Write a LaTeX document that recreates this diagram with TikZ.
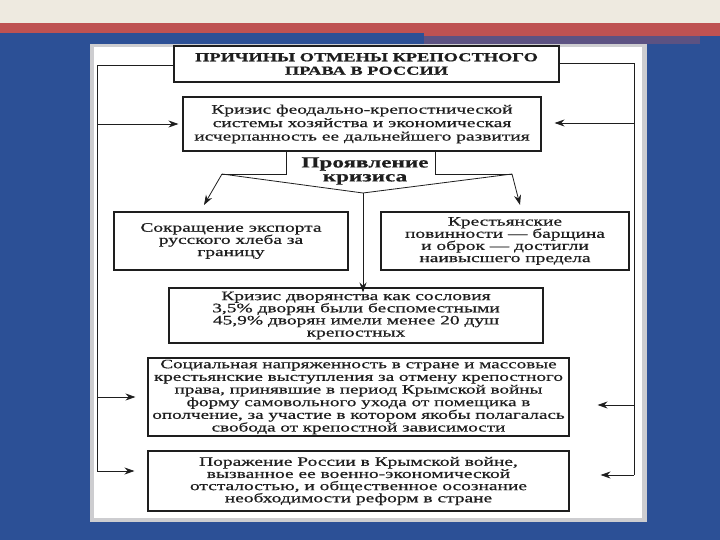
\documentclass[tikz,border=0pt]{standalone}
\usepackage{fontspec}
\setmainfont{Liberation Serif}
\newfontfamily\scan[FakeStretch=1.5,FakeBold=0.6]{Liberation Serif}
\usetikzlibrary{arrows.meta}
\definecolor{bgblue}{RGB}{44,80,150}
\definecolor{bgcream}{RGB}{238,234,224}
\definecolor{bgred}{RGB}{190,82,82}
\definecolor{bgpurple}{RGB}{92,82,130}
\definecolor{panelgray}{RGB}{205,205,208}
\definecolor{ink}{RGB}{30,30,30}
\tikzset{
  boxnode/.style={draw=ink, line width=1.1bp, inner sep=0pt, align=center, text=ink,
    font=\scan\fontsize{13}{12.2}\selectfont},
  conn/.style={draw=ink, line width=0.8bp},
  arr/.style={conn, -{Stealth[length=10bp,width=7bp]}},
}
\begin{document}
\begin{tikzpicture}[x=1bp,y=-1bp]
\useasboundingbox (0,0) rectangle (720,540);
% background
\fill[bgblue] (0,0) rectangle (720,540);
\fill[bgcream] (0,0) rectangle (720,23);
\fill[bgred] (0,23) rectangle (720,33);
\fill[bgred] (424,33) rectangle (720,36);
\fill[bgpurple] (424,36) rectangle (700,44);
% panel
\fill[panelgray] (90,44) rectangle (647,522);
\fill[white] (94,47) rectangle (642,518);

% boxes
\node[boxnode, minimum width=385bp, minimum height=36bp, font=\scan\bfseries\fontsize{12.3}{13.5}\selectfont]
  (title) at (366.5,64) {ПРИЧИНЫ ОТМЕНЫ КРЕПОСТНОГО\\ПРАВА В РОССИИ};
\node[boxnode, minimum width=358bp, minimum height=54bp, font=\scan\fontsize{13}{13.5}\selectfont] (b2) at (362,124)
  {Кризис феодально-крепостнической\\системы хозяйства и экономическая\\исчерпанность ее дальнейшего развития};
\node[text=ink, align=center, inner sep=0pt, font=\scan\bfseries\fontsize{15.5}{14}\selectfont]
  (pk) at (365,171) {Проявление\\кризиса};
\node[boxnode, minimum width=234bp, minimum height=58bp] (b3l) at (231,241)
  {\raisebox{-4bp}{\parbox{230bp}{\centering Сокращение экспорта\\русского хлеба за\\границу}}};
\node[boxnode, minimum width=248bp, minimum height=58bp] (b3r) at (505,241)
  {Крестьянские\\повинности — барщина\\и оброк — достигли\\наивысшего предела};
\node[boxnode, minimum width=374bp, minimum height=55bp] (b4) at (356,315.5)
  {Кризис дворянства как сословия\\3,5\% дворян были беспоместными\\45,9\% дворян имели менее 20 душ\\крепостных};
\node[boxnode, minimum width=421bp, minimum height=78bp, font=\scan\fontsize{12.8}{12.7}\selectfont] (b5) at (358.5,397)
  {Социальная напряженность в стране и массовые\\крестьянские выступления за отмену крепостного\\права, принявшие в период Крымской войны\\форму самовольного ухода от помещика в\\ополчение, за участие в котором якобы полагалась\\свобода от крепостной зависимости};
\node[boxnode, minimum width=421bp, minimum height=60bp] (b6) at (358.5,481)
  {\raisebox{-3bp}{\parbox{415bp}{\centering Поражение России в Крымской войне,\\вызванное ее военно-экономической\\отсталостью, и общественное осознание\\необходимости реформ в стране}}};

% junction coordinates
\coordinate (lt) at (97,65);
\coordinate (lb) at (97,471);
\coordinate (rt) at (634,63);
\coordinate (rb) at (634,475);
\coordinate (bl0) at (286,151);
\coordinate (br0) at (435,151);
\coordinate (blc) at (222,174);
\coordinate (brc) at (512,174);
\coordinate (vm) at (363,193);
\coordinate (tl) at (204,205);
\coordinate (tr) at (520,205);

% left trunk
\draw[conn] (title.west |- lt) -- (lt) -- (lb);
\draw[arr] (lb) -- ([xshift=-13bp]b6.west |- lb);
\draw[arr] (lt |- 0,124) -- ([xshift=-4bp]b2.west |- 0,124);
\draw[arr] (lt |- 0,397) -- ([xshift=-12bp]b5.west |- 0,397);
% right trunk
\draw[conn] (title.east |- rt) -- (rt) -- (rb);
\draw[arr] (rb) -- ([xshift=31bp]b6.east |- rb);
\draw[arr] (rt |- 0,123) -- ([xshift=13bp]b2.east |- 0,123);
\draw[arr] (rt |- 0,405) -- ([xshift=28bp]b5.east |- 0,405);

% bracket around "Проявление кризиса"
\draw[conn] (bl0) -- (bl0 |- blc) -- (blc);
\draw[conn] (br0) -- (br0 |- brc) -- (brc);
\draw[arr] (blc) -- (tl);
\draw[arr] (brc) -- (tr);
\draw[conn] (blc) -- (vm) -- (brc);
\draw[arr] (vm) -- ([yshift=-5bp]b4.north -| vm);
\end{tikzpicture}
\end{document}
